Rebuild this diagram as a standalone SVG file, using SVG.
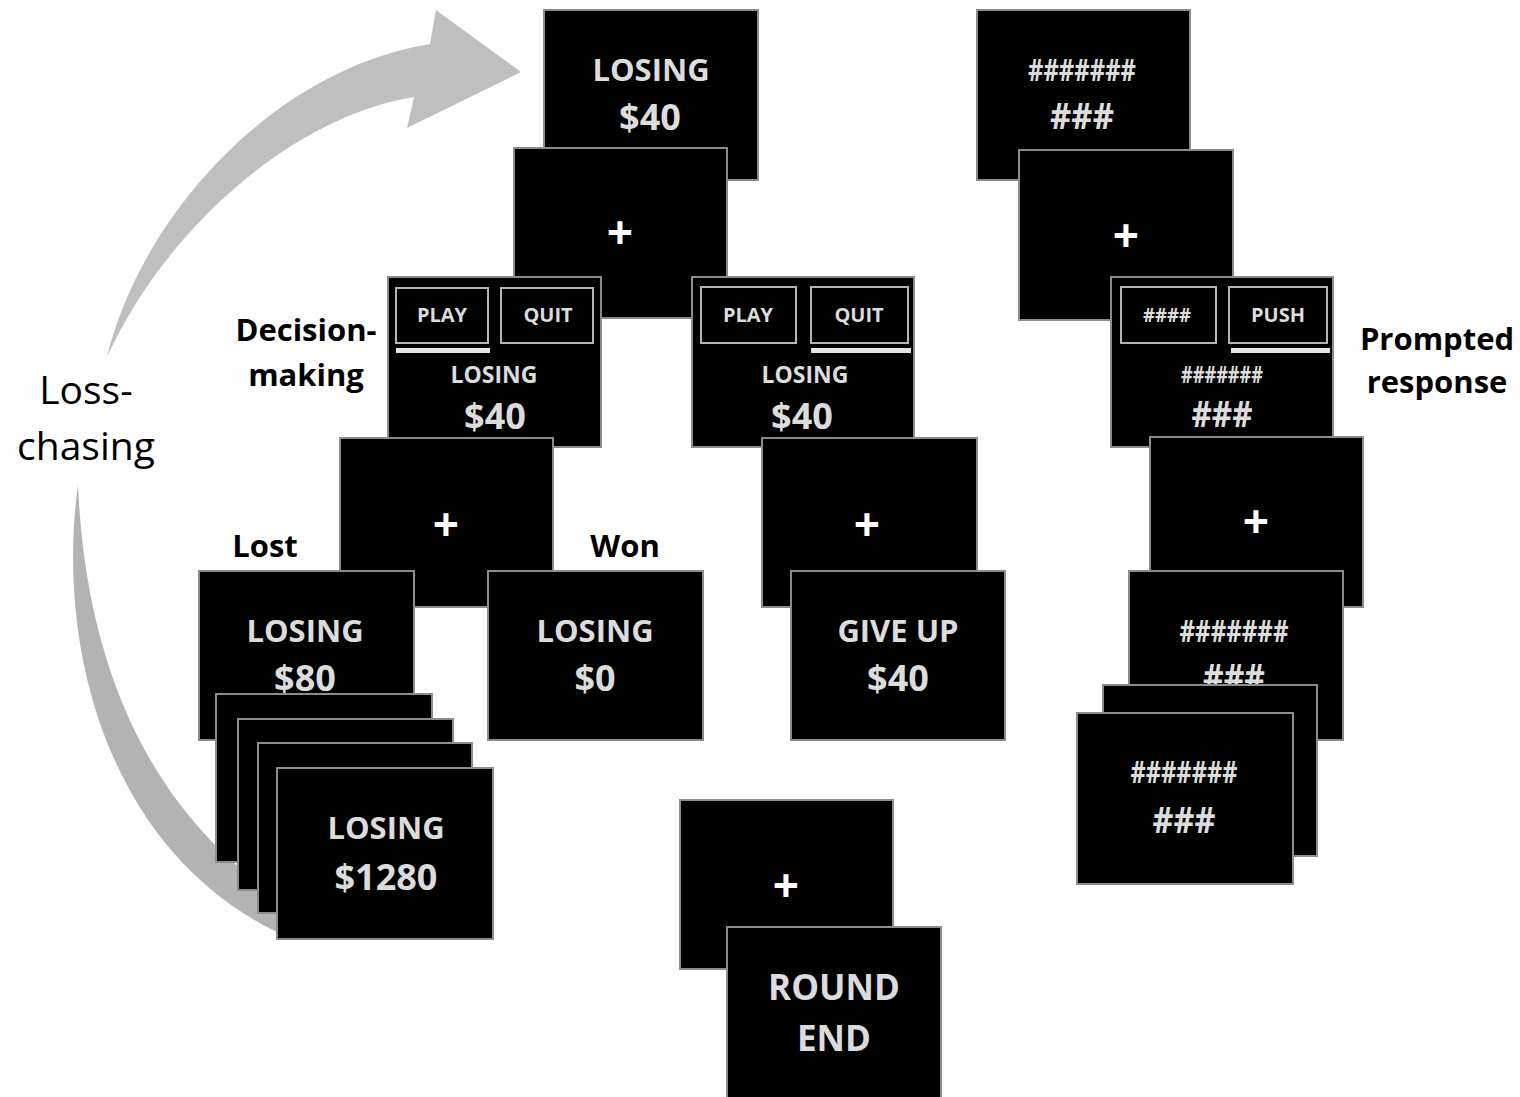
<svg xmlns="http://www.w3.org/2000/svg" width="1520" height="1097" viewBox="0 0 1520 1097">
<style>
.scr{fill:#000;stroke:#8c8c8c;stroke-width:2}
.btn{fill:none;stroke:#b4b4b4;stroke-width:2}
.bar{fill:#e6e6e6}
.t{font-family:"Open Sans","Noto Sans",sans-serif;font-weight:700;fill:#dcdcdc;text-anchor:middle}
.big{font-size:31px}
.amt{font-size:36px}
.sm{font-size:23px}
.bt{font-size:20px}
.plus{font-family:"Open Sans","Noto Sans",sans-serif;font-weight:700;fill:#fff;font-size:46px;text-anchor:middle}
.lbl{font-family:"Open Sans","Noto Sans",sans-serif;font-weight:700;fill:#000;font-size:31px;text-anchor:middle}
.lbl2{font-family:"Open Sans","Noto Sans",sans-serif;font-weight:400;fill:#000;font-size:39px;text-anchor:middle}
</style>
<rect width="1520" height="1097" fill="#fff"/>
<g id="connectors">
<path id="loss-arrow-upper" fill="#bfbfbf" d="M107,357 C140,220 270,70 430,44 L436,10 L521,72 L407,128 L414,97 C300,115 170,220 107,357 Z"/>
<path id="loss-arrow-lower" fill="#b3b3b3" d="M78,485 C55,650 110,860 290,938 L290,905 C140,810 85,650 78,485 Z"/>
</g>
<g id="labels">
<text class="lbl2" x="86" y="404">Loss-</text>
<text class="lbl2" x="86" y="460">chasing</text>
<text class="lbl" x="306" y="341">Decision-</text>
<text class="lbl" x="306" y="386">making</text>
<text class="lbl" x="265" y="557">Lost</text>
<text class="lbl" x="625" y="557">Won</text>
<text class="lbl" x="1437" y="350">Prompted</text>
<text class="lbl" x="1437" y="393">response</text>
</g>
<g id="trial-start">
<rect class="scr" x="544" y="10" width="214" height="170"/>
<text class="t big" x="651" y="81">LOSING</text>
<text class="t amt" x="650" y="130">$40</text>
</g>
<g id="fixation-1">
<rect class="scr" x="514" y="148" width="213" height="170"/>
<text class="plus" x="620" y="249">+</text>
</g>
<g id="decision-play">
<rect class="scr" x="388" y="277" width="213" height="170"/>
<rect class="btn" x="396" y="288" width="92" height="55"/>
<rect class="btn" x="501" y="288" width="92" height="55"/>
<rect class="bar" x="396" y="348" width="94" height="5"/>
<text class="t bt" x="442" y="322">PLAY</text>
<text class="t bt" x="548" y="322">QUIT</text>
<text class="t sm" x="494" y="383">LOSING</text>
<text class="t amt" x="495" y="429">$40</text>
</g>
<g id="decision-quit">
<rect class="scr" x="692" y="277" width="222" height="170"/>
<rect class="btn" x="701" y="287" width="95" height="56"/>
<rect class="btn" x="811" y="287" width="97" height="56"/>
<rect class="bar" x="811" y="348" width="100" height="5"/>
<text class="t bt" x="748" y="322">PLAY</text>
<text class="t bt" x="859" y="322">QUIT</text>
<text class="t sm" x="805" y="383">LOSING</text>
<text class="t amt" x="802" y="429">$40</text>
</g>
<g id="fixation-play">
<rect class="scr" x="340" y="438" width="213" height="169"/>
<text class="plus" x="446" y="541">+</text>
</g>
<g id="outcome-lost">
<rect class="scr" x="199" y="571" width="215" height="169"/>
<text class="t big" x="305" y="642">LOSING</text>
<text class="t amt" x="305" y="691">$80</text>
</g>
<g id="outcome-won">
<rect class="scr" x="488" y="571" width="215" height="169"/>
<text class="t big" x="595" y="642">LOSING</text>
<text class="t amt" x="595" y="691">$0</text>
</g>
<g id="loss-chasing-stack">
<rect class="scr" x="216" y="694" width="216" height="168"/>
<rect class="scr" x="238" y="719" width="215" height="171"/>
<rect class="scr" x="258" y="743" width="214" height="170"/>
<rect class="scr" x="277" y="768" width="216" height="171"/>
<text class="t big" x="386" y="839">LOSING</text>
<text class="t amt" x="386" y="890">$1280</text>
</g>
<g id="fixation-quit">
<rect class="scr" x="762" y="438" width="215" height="169"/>
<text class="plus" x="867" y="541">+</text>
</g>
<g id="outcome-giveup">
<rect class="scr" x="791" y="571" width="214" height="169"/>
<text class="t big" x="898" y="642">GIVE UP</text>
<text class="t amt" x="898" y="691">$40</text>
</g>
<g id="fixation-end">
<rect class="scr" x="680" y="800" width="213" height="169"/>
<text class="plus" x="786" y="902">+</text>
</g>
<g id="round-end">
<rect class="scr" x="727" y="927" width="214" height="172"/>
<text class="t" style="font-size:35px" x="834" y="1000">ROUND</text>
<text class="t" style="font-size:35px" x="834" y="1051">END</text>
</g>
<g id="control-start">
<rect class="scr" x="977" y="10" width="213" height="170"/>
<text class="t big" x="1082" y="81" textLength="108" lengthAdjust="spacingAndGlyphs">#######</text>
<text class="t amt" x="1082" y="129" textLength="64" lengthAdjust="spacingAndGlyphs">###</text>
</g>
<g id="control-fixation-1">
<rect class="scr" x="1019" y="150" width="214" height="170"/>
<text class="plus" x="1126" y="252">+</text>
</g>
<g id="prompted-response">
<rect class="scr" x="1111" y="277" width="222" height="170"/>
<rect class="btn" x="1121" y="287" width="95" height="56"/>
<rect class="btn" x="1229" y="287" width="98" height="56"/>
<rect class="bar" x="1231" y="348" width="99" height="5"/>
<text class="t bt" x="1167" y="322" textLength="48" lengthAdjust="spacingAndGlyphs">####</text>
<text class="t bt" x="1278" y="322">PUSH</text>
<text class="t sm" x="1222" y="383" textLength="82" lengthAdjust="spacingAndGlyphs">#######</text>
<text class="t amt" x="1222" y="427" textLength="61" lengthAdjust="spacingAndGlyphs">###</text>
</g>
<g id="control-fixation-2">
<rect class="scr" x="1150" y="437" width="213" height="170"/>
<text class="plus" x="1256" y="538">+</text>
</g>
<g id="control-outcome">
<rect class="scr" x="1129" y="571" width="214" height="169"/>
<text class="t big" x="1234" y="642" textLength="109" lengthAdjust="spacingAndGlyphs">#######</text>
<text class="t amt" x="1234" y="690" textLength="62" lengthAdjust="spacingAndGlyphs">###</text>
</g>
<g id="control-stack">
<rect class="scr" x="1103" y="685" width="214" height="171"/>
<rect class="scr" x="1077" y="713" width="216" height="171"/>
<text class="t big" x="1184" y="783" textLength="107" lengthAdjust="spacingAndGlyphs">#######</text>
<text class="t amt" x="1184" y="833" textLength="63" lengthAdjust="spacingAndGlyphs">###</text>
</g>
</svg>
